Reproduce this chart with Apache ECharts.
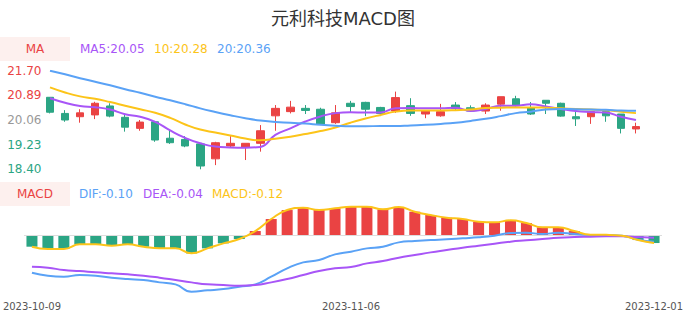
<!DOCTYPE html>
<html>
<head>
<meta charset="utf-8">
<script src="https://cdn.jsdelivr.net/npm/echarts@6/dist/echarts.min.js"></script>
<style>
html,body{margin:0;padding:0;background:#fff;}
#main{width:686px;height:320px;}
</style>
</head>
<body>
<div id="main"></div>
<script>
var dates = ['2023-10-09','2023-10-10','2023-10-11','2023-10-12','2023-10-13','2023-10-16','2023-10-17','2023-10-18','2023-10-19','2023-10-20',
'2023-10-23','2023-10-24','2023-10-25','2023-10-26','2023-10-27','2023-10-30','2023-10-31','2023-11-01','2023-11-02','2023-11-03',
'2023-11-06','2023-11-07','2023-11-08','2023-11-09','2023-11-10','2023-11-13','2023-11-14','2023-11-15','2023-11-16','2023-11-17',
'2023-11-20','2023-11-21','2023-11-22','2023-11-23','2023-11-24','2023-11-27','2023-11-28','2023-11-29','2023-11-30','2023-12-01'];

// [open, close, low, high]
var kline = [
[20.81,20.31,20.27,20.81],[20.27,20.05,19.99,20.38],[20.16,20.29,19.96,20.41],[20.22,20.61,20.08,20.66],[20.52,20.18,20.14,20.61],
[20.14,19.81,19.66,20.27],[19.77,19.98,19.69,20.05],[19.99,19.38,19.32,20.02],[19.44,19.29,19.25,19.72],[19.40,19.18,19.14,19.51],
[19.25,18.51,18.40,19.25],[18.75,19.29,18.54,19.32],[19.18,19.27,19.14,19.51],[19.14,19.27,18.71,19.27],[19.27,19.69,18.99,19.88],
[20.19,20.44,19.69,20.55],[20.33,20.48,20.27,20.69],[20.44,20.37,20.25,20.55],[20.41,19.91,19.88,20.46],[19.96,20.29,19.92,20.55],
[20.61,20.50,20.31,20.69],[20.64,20.41,20.18,20.66],[20.47,20.27,20.18,20.49],[20.35,20.80,20.29,21.00],[20.53,20.27,20.19,20.78],
[20.25,20.35,20.11,20.35],[20.19,20.33,20.16,20.59],[20.55,20.43,20.38,20.65],[20.46,20.35,20.32,20.54],[20.35,20.55,20.25,20.61],
[20.58,20.83,20.36,20.83],[20.76,20.53,20.50,20.86],[20.46,20.25,20.22,20.65],[20.71,20.61,20.25,20.71],[20.61,20.18,20.16,20.63],
[20.16,20.09,19.85,20.33],[20.16,20.33,19.92,20.33],[20.33,20.19,19.99,20.38],[20.25,19.77,19.60,20.25],[19.75,19.83,19.60,19.96]
];

var ma5 = [20.78,20.63,20.52,20.48,20.40,20.24,20.16,19.99,19.70,19.45,19.27,19.16,19.13,19.12,19.15,19.55,19.77,20.00,20.17,20.28,
20.31,20.30,20.30,20.44,20.45,20.44,20.44,20.46,20.35,20.42,20.53,20.53,20.58,20.50,20.42,20.35,20.32,20.30,20.16,20.05];
var ma10 = [21.14,20.97,20.84,20.76,20.65,20.53,20.41,20.29,20.12,19.90,19.73,19.63,19.53,19.43,19.37,19.42,19.49,19.58,19.68,19.80,
19.96,20.10,20.22,20.33,20.37,20.37,20.37,20.38,20.40,20.45,20.46,20.47,20.47,20.46,20.44,20.42,20.40,20.38,20.33,20.28];
var ma20 = [21.70,21.58,21.45,21.33,21.21,21.08,20.96,20.83,20.71,20.58,20.44,20.32,20.21,20.11,20.03,19.98,19.96,19.93,19.89,19.86,
19.84,19.84,19.85,19.85,19.87,19.89,19.92,19.96,20.02,20.09,20.18,20.28,20.33,20.40,20.42,20.41,20.40,20.39,20.37,20.36];

var dif = [-0.565,-0.61,-0.625,-0.60,-0.61,-0.64,-0.66,-0.675,-0.71,-0.74,-0.85,-0.83,-0.81,-0.775,-0.74,-0.625,-0.50,-0.41,-0.375,-0.29,
-0.25,-0.20,-0.175,-0.11,-0.09,-0.075,-0.065,-0.05,-0.035,-0.01,0.03,0.035,0.015,0.035,0.015,0.0,0.0,-0.01,-0.07,-0.10];
var dea = [-0.475,-0.49,-0.525,-0.54,-0.56,-0.575,-0.59,-0.61,-0.64,-0.675,-0.71,-0.74,-0.75,-0.76,-0.75,-0.71,-0.66,-0.60,-0.54,-0.50,
-0.48,-0.425,-0.39,-0.34,-0.30,-0.26,-0.225,-0.19,-0.16,-0.13,-0.10,-0.08,-0.06,-0.04,-0.03,-0.025,-0.02,-0.02,-0.03,-0.04];
var macd = [-0.175,-0.21,-0.21,-0.14,-0.14,-0.16,-0.14,-0.175,-0.20,-0.20,-0.275,-0.20,-0.125,-0.06,0.06,0.24,0.375,0.41,0.375,0.40,
0.425,0.425,0.385,0.42,0.35,0.30,0.26,0.24,0.20,0.19,0.22,0.18,0.115,0.115,0.06,0.005,0.003,-0.01,-0.075,-0.12];

var yTickValues = [18.40, 19.23, 20.06, 20.89, 21.70];
var xLabelIndices = [0, 20, 39];

var RED = '#ea4343', GREEN = '#2ba584', PURPLE = '#a855f7', YELLOW = '#fcc419', BLUE = '#5aa2f6';
var FONT = 'DejaVu Sans, Noto Sans CJK SC, sans-serif';
var last = function(a){ return a[a.length-1].toFixed(2); };
var mid = yTickValues[2];

var chart = echarts.init(document.getElementById('main'), null, {renderer:'svg'});
chart.setOption({
  animation:false,
  backgroundColor:'#fff',
  textStyle:{fontFamily:FONT},
  title:{text:'元利科技MACD图', left:'center', top:4,
    textStyle:{fontSize:18, fontWeight:'normal', color:'#333', fontFamily:FONT}},
  graphic:[
    {type:'rect', left:0, top:37, shape:{width:70,height:24}, style:{fill:'#fdf0ee'}},
    {type:'text', x:35, y:49, style:{text:'MA', fill:RED, font:'12px '+FONT, textAlign:'center', textVerticalAlign:'middle'}},
    {type:'text', x:80, y:49, style:{text:'MA5:'+last(ma5), fill:PURPLE, font:'12px '+FONT, textVerticalAlign:'middle'}},
    {type:'text', x:154, y:49, style:{text:'10:'+last(ma10), fill:YELLOW, font:'12px '+FONT, textVerticalAlign:'middle'}},
    {type:'text', x:217, y:49, style:{text:'20:'+last(ma20), fill:BLUE, font:'12px '+FONT, textVerticalAlign:'middle'}},
    {type:'rect', left:0, top:182, shape:{width:70,height:24}, style:{fill:'#fdf0ee'}},
    {type:'text', x:35, y:194, style:{text:'MACD', fill:RED, font:'12px '+FONT, textAlign:'center', textVerticalAlign:'middle'}},
    {type:'text', x:79, y:194, style:{text:'DIF:'+last(dif), fill:BLUE, font:'12px '+FONT, textVerticalAlign:'middle'}},
    {type:'text', x:143, y:194, style:{text:'DEA:'+last(dea), fill:PURPLE, font:'12px '+FONT, textVerticalAlign:'middle'}},
    {type:'text', x:212, y:194, style:{text:'MACD:'+last(macd), fill:YELLOW, font:'12px '+FONT, textVerticalAlign:'middle'}}
  ],
  grid:[
    {left:42.5, right:42.5, top:70.7, height:98.6},
    {left:20, right:20, top:201.7, height:100}
  ],
  xAxis:[
    {type:'category', gridIndex:0, data:dates, boundaryGap:true,
      axisLine:{show:false}, axisTick:{show:false}, axisLabel:{show:false}, splitLine:{show:false}},
    {type:'category', gridIndex:1, data:dates, boundaryGap:true,
      axisLine:{show:false}, axisTick:{show:false}, splitLine:{show:false},
      axisLabel:{show:true, color:'#555', fontSize:10, margin:0, fontFamily:FONT,
        interval:function(i){ return xLabelIndices.indexOf(i) >= 0; }}}
  ],
  yAxis:[
    {type:'value', gridIndex:0, min:yTickValues[0], max:yTickValues[4], scale:true,
      axisLine:{show:false}, axisTick:{show:false}, splitLine:{show:false},
      axisLabel:{show:true, customValues:yTickValues, fontSize:12, margin:1, fontFamily:FONT,
        formatter:function(v){ return v.toFixed(2); },
        color:function(v){ v = +v; return Math.abs(v-mid)<0.001 ? '#999' : (v>mid ? RED : GREEN); }}},
    {type:'value', gridIndex:1, min:-1, max:0.5,
      axisLine:{show:false}, axisTick:{show:false}, splitLine:{show:false}, axisLabel:{show:false}}
  ],
  series:[
    {type:'candlestick', xAxisIndex:0, yAxisIndex:0, data:kline, barWidth:8,
      itemStyle:{color:RED, color0:GREEN, borderColor:RED, borderColor0:GREEN, borderWidth:1}},
    {type:'line', name:'MA5', xAxisIndex:0, yAxisIndex:0, data:ma5, smooth:true, showSymbol:false,
      lineStyle:{color:PURPLE, width:2}, z:5},
    {type:'line', name:'MA10', xAxisIndex:0, yAxisIndex:0, data:ma10, smooth:true, showSymbol:false,
      lineStyle:{color:YELLOW, width:2}, z:5},
    {type:'line', name:'MA20', xAxisIndex:0, yAxisIndex:0, data:ma20, smooth:true, showSymbol:false,
      lineStyle:{color:BLUE, width:2}, z:5},
    {type:'bar', xAxisIndex:1, yAxisIndex:1, data:macd, barWidth:11,
      itemStyle:{color:function(p){ return p.value >= 0 ? RED : GREEN; }},
      markLine:{silent:true, symbol:['none','none'], label:{show:false},
        lineStyle:{color:'#ddd', type:'solid', width:1}, data:[{yAxis:0}]}},
    {type:'line', name:'DIF', xAxisIndex:1, yAxisIndex:1, data:dif, smooth:true, showSymbol:false,
      lineStyle:{color:BLUE, width:2}, z:5},
    {type:'line', name:'DEA', xAxisIndex:1, yAxisIndex:1, data:dea, smooth:true, showSymbol:false,
      lineStyle:{color:PURPLE, width:2}, z:5},
    {type:'line', name:'MACD', xAxisIndex:1, yAxisIndex:1, data:macd, smooth:true, showSymbol:false,
      lineStyle:{color:YELLOW, width:2}, z:6}
  ]
});
</script>
</body>
</html>
